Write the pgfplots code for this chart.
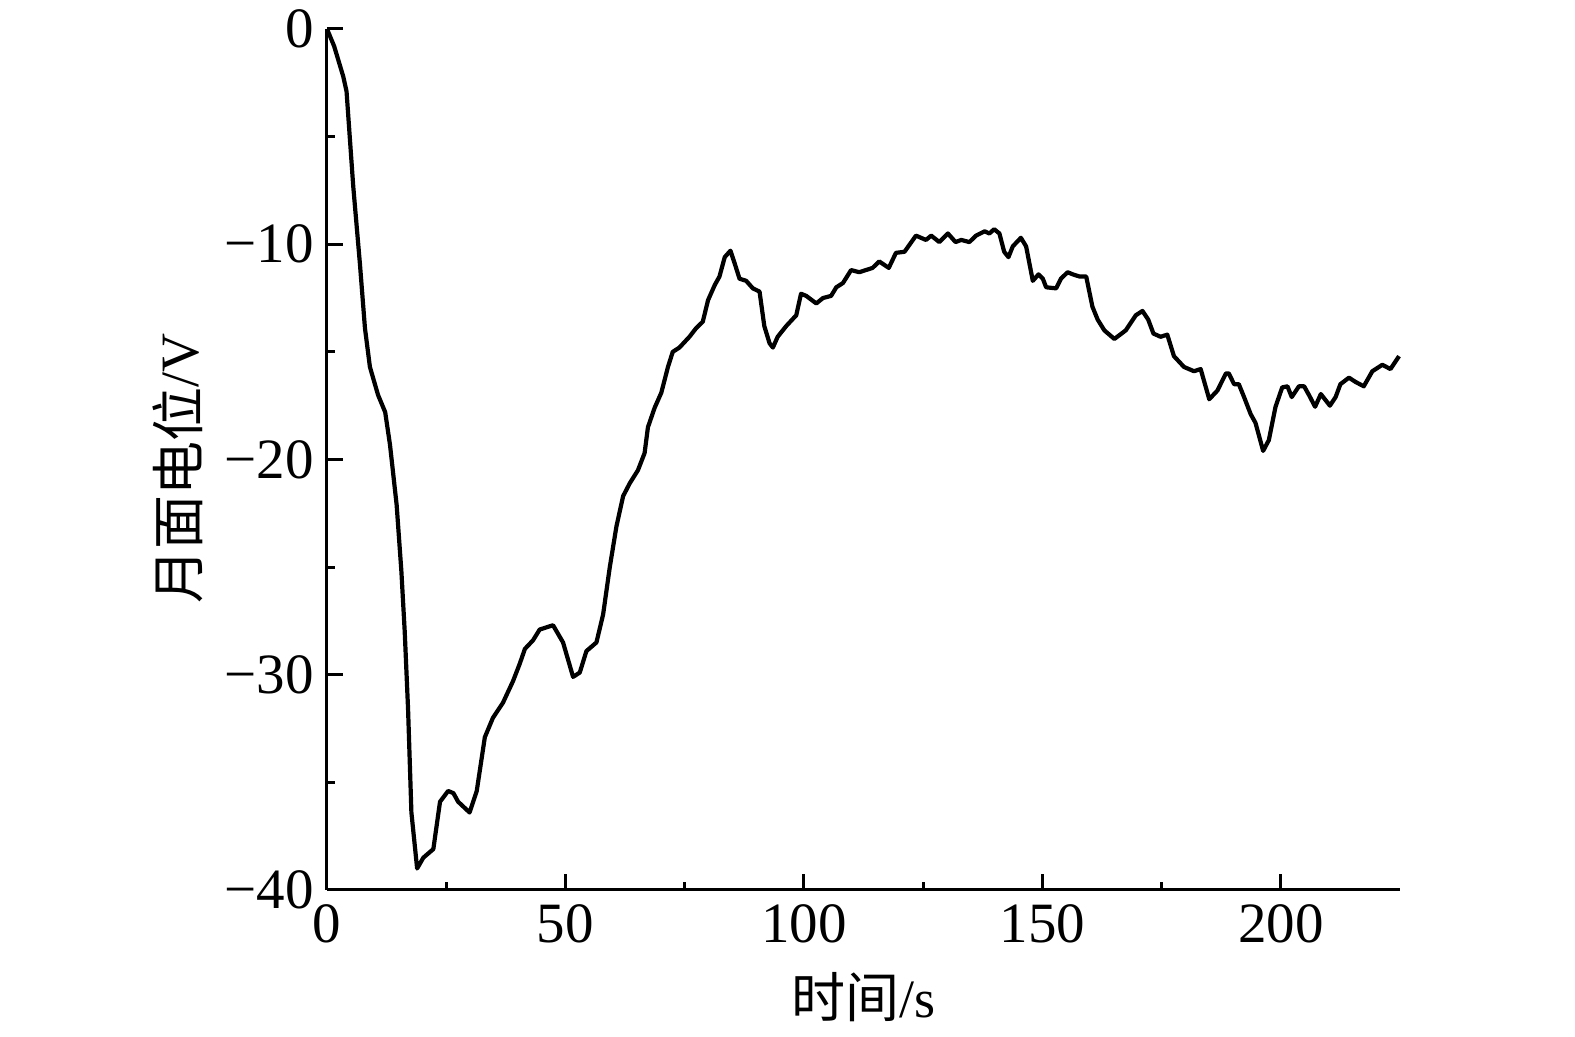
\documentclass[border=0pt]{standalone}
\usepackage{fontspec}
\setmainfont{Liberation Serif}
\newfontfamily\cjk{Noto Sans CJK SC}
\usepackage{pgfplots}
\pgfplotsset{compat=1.18}
\begin{document}
\begin{tikzpicture}
\path[use as bounding box] (-163.5pt,-73.5pt) rectangle (624pt,445pt);
\begin{axis}[
  at={(0pt,0pt)}, anchor=south west,
  scale only axis, width=536.5pt, height=430.5pt,
  xmin=0, xmax=225, ymin=-40, ymax=0,
  axis lines*=left,
  axis line style={line width=1.5pt},
  tick align=inside,
  major tick length=8pt, minor tick length=4pt,
  tick style={line width=1.5pt, black},
  xtick={0,50,100,150,200},
  ytick={-40,-30,-20,-10,0},
  yticklabels={−40,−30,−20,−10,0},
  minor tick num=1,
  /pgf/number format/assume math mode=true,
  tick label style={font=\fontsize{28.5}{30}\selectfont},
  xticklabel style={yshift=-4pt},
  yticklabel style={xshift=-3pt},
  label style={font=\fontsize{27}{30}\selectfont},
  xlabel={{\cjk 时间}/s},
  ylabel={{\cjk 月面电位}/V},
  xlabel style={at={(axis description cs:0.5,-0.1243)}, anchor=center},
  ylabel style={at={(axis description cs:-0.1389,0.49)}, anchor=center},
  clip=false,
]
\addplot[line width=2.1pt, black, line join=round] table {
0 0
1.5 -0.8
3.4 -2.2
4.1 -2.9
5.5 -7.3
6.9 -10.9
7.96 -13.9
9.0 -15.7
10.7 -17.0
12.2 -17.8
13.2 -19.3
14.6 -22.1
15.6 -25.2
16.3 -28.0
17.0 -31.6
17.7 -36.4
18.9 -39.0
20.2 -38.5
22.3 -38.1
23.7 -35.9
25.4 -35.4
26.5 -35.5
27.5 -35.9
29.9 -36.4
31.4 -35.4
33.1 -32.9
34.8 -32.0
36.9 -31.3
39.0 -30.3
40.4 -29.5
41.5 -28.8
43.2 -28.4
44.6 -27.9
47.4 -27.7
49.5 -28.5
51.6 -30.1
53.0 -29.9
54.4 -28.9
56.5 -28.5
57.9 -27.2
59.3 -25.0
60.7 -23.1
62.1 -21.7
63.5 -21.1
65.2 -20.5
66.6 -19.7
67.3 -18.5
68.7 -17.6
70.1 -16.9
71.5 -15.7
72.5 -15.0
73.9 -14.8
76.0 -14.3
77.4 -13.9
78.8 -13.6
79.9 -12.6
81.3 -11.9
82.3 -11.5
83.4 -10.6
84.6 -10.3
85.5 -10.9
86.5 -11.6
87.9 -11.7
89.3 -12.05
90.7 -12.2
91.7 -13.8
92.8 -14.6
93.5 -14.8
94.5 -14.3
96.3 -13.8
98.4 -13.3
99.4 -12.3
100.5 -12.4
102.6 -12.75
104.0 -12.5
105.7 -12.4
106.8 -12.0
108.2 -11.8
109.9 -11.2
111.6 -11.3
114.4 -11.1
115.8 -10.8
117.8 -11.1
119.3 -10.4
121.1 -10.35
123.5 -9.6
125.6 -9.8
126.7 -9.6
128.4 -9.9
130.2 -9.5
131.8 -9.9
133.0 -9.8
134.7 -9.9
136.1 -9.6
137.9 -9.4
138.9 -9.5
139.9 -9.3
141.0 -9.5
142.0 -10.35
142.9 -10.6
143.8 -10.1
145.5 -9.7
146.6 -10.1
148.0 -11.7
149.2 -11.4
150.1 -11.6
150.8 -12.0
152.9 -12.05
153.9 -11.6
155.3 -11.3
156.4 -11.4
157.8 -11.5
159.2 -11.5
160.5 -12.9
161.6 -13.5
163.0 -14.0
165.1 -14.4
167.5 -14.0
169.6 -13.3
171.0 -13.1
172.2 -13.5
173.3 -14.15
174.8 -14.3
176.2 -14.2
177.6 -15.2
179.7 -15.7
181.8 -15.9
183.2 -15.8
185.0 -17.2
186.7 -16.8
188.5 -16.0
189.1 -16.0
190.2 -16.5
191.2 -16.5
192.3 -17.1
193.7 -17.9
194.7 -18.3
196.3 -19.6
197.5 -19.1
198.9 -17.55
200.3 -16.65
201.4 -16.6
202.3 -17.1
203.8 -16.6
204.9 -16.6
205.9 -17.0
207.2 -17.55
208.4 -16.96
210.3 -17.5
211.5 -17.1
212.5 -16.5
214.3 -16.2
215.7 -16.4
217.4 -16.6
219.2 -15.9
221.3 -15.6
223.0 -15.8
224.8 -15.2
};
\end{axis}
\end{tikzpicture}
\end{document}
